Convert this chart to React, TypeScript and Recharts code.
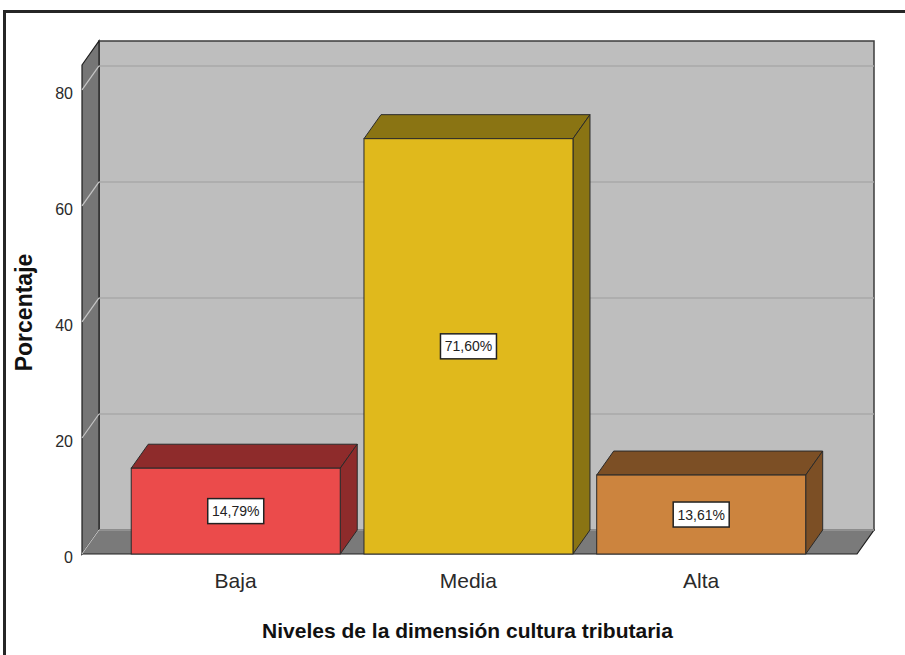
import React from 'react';
import { BarChart, Bar, XAxis, YAxis, ReferenceArea, ReferenceLine } from 'recharts';

// ---- data ----
const categories = ['Baja', 'Media', 'Alta'];
const percentages = [14.79, 71.6, 13.61];
const yTicks = [0, 20, 40, 60, 80];
const xTicks = [1, 2, 3];
const frontColors = ['#EB4B4B', '#E0B91C', '#CC843E'];
const shadeColors = ['#8E2B2B', '#8A7413', '#7C4F25'];
const xTitle = 'Niveles de la dimensión cultura tributaria';
const yTitle = 'Porcentaje';

const X_DOMAIN: [number, number] = [0.34, 3.67];
const Y_MAX = 84.3;
const DX = 17;
const DY = 24;
const FONT = '"Liberation Sans", Arial, Helvetica, sans-serif';

const data = categories.map((name, i) => ({ pos: xTicks[i], name, value: percentages[i] }));

const fmt = (v: number) => v.toFixed(2).replace('.', ',') + '%';

function Walls(props: any) {
  const { x, y, width, height } = props;
  const b = y + height;
  return (
    <g>
      <rect x={x + DX} y={y - DY} width={width} height={height} fill="#BEBEBE" stroke="#3c3c3c" strokeWidth={1.5} />
      <polygon
        points={`${x},${y} ${x + DX},${y - DY} ${x + DX},${b - DY} ${x},${b}`}
        fill="#767676"
        stroke="#1e1e1e"
        strokeWidth={1.2}
      />
      <polygon
        points={`${x},${b} ${x + DX},${b - DY} ${x + width + DX},${b - DY} ${x + width},${b}`}
        fill="#7A7A7A"
        stroke="#1e1e1e"
        strokeWidth={1.2}
      />
    </g>
  );
}

function GridLine(props: any) {
  const { x1, y1, x2 } = props;
  const left = Math.min(x1, x2);
  const right = Math.max(x1, x2);
  return (
    <g>
      <line x1={left + DX} y1={y1 - DY} x2={right + DX} y2={y1 - DY} stroke="#A8A8A8" strokeWidth={1.5} />
      <line x1={left} y1={y1} x2={left + DX} y2={y1 - DY} stroke="#C6C6C6" strokeWidth={1.2} />
    </g>
  );
}

function Bar3D(props: any) {
  const { x, y, width, height, payload } = props;
  const idx = categories.indexOf(payload.name);
  const front = frontColors[idx];
  const shade = shadeColors[idx];
  const cx = x + width / 2;
  const cy = y + height / 2;
  const stroke = '#2a2a2a';
  return (
    <g>
      <polygon
        points={`${x},${y} ${x + DX},${y - DY} ${x + width + DX},${y - DY} ${x + width},${y}`}
        fill={shade}
        stroke={stroke}
        strokeWidth={1}
      />
      <polygon
        points={`${x + width},${y} ${x + width + DX},${y - DY} ${x + width + DX},${y + height - DY} ${x + width},${y + height}`}
        fill={shade}
        stroke={stroke}
        strokeWidth={1}
      />
      <rect x={x} y={y} width={width} height={height} fill={front} stroke={stroke} strokeWidth={1} />
      <rect x={cx - 28} y={cy - 12.5} width={56} height={25} fill="#FFFFFF" stroke="#222" strokeWidth={1.5} />
      <text x={cx} y={cy} dy="0.36em" textAnchor="middle" fontSize={14} fill="#222" fontFamily={FONT}>
        {fmt(payload.value)}
      </text>
    </g>
  );
}

function XTitle(props: any) {
  const vb = props.viewBox || props;
  return (
    <text
      x={vb.x + vb.width / 2 - 2}
      y={vb.y + 84}
      textAnchor="middle"
      fontSize={21}
      fontWeight="bold"
      fill="#111"
      fontFamily={FONT}
    >
      {xTitle}
    </text>
  );
}

function YTitle(props: any) {
  const vb = props.viewBox || props;
  const cy = vb.y + vb.height / 2 + 3;
  return (
    <text
      transform={`translate(${vb.x + 32}, ${cy}) rotate(-90)`}
      x={0}
      y={0}
      textAnchor="middle"
      fontSize={23}
      fontWeight="bold"
      fill="#111"
      fontFamily={FONT}
    >
      {yTitle}
    </text>
  );
}

export default function App() {
  return (
    <div style={{ position: 'absolute', left: 0, top: 0, width: 905, height: 655, background: '#fff', overflow: 'hidden' }}>
      <div
        style={{
          position: 'absolute',
          left: 3,
          top: 10,
          width: 905,
          height: 650,
          borderTop: '3px solid #262626',
          borderLeft: '3px solid #262626',
          boxSizing: 'border-box',
        }}
      />
      <div style={{ position: 'absolute', left: 0, top: 0 }}>
        <BarChart
          width={905}
          height={655}
          data={data}
          margin={{ top: 65, right: 48, bottom: 11, left: 0 }}
          barSize={209}
        >
          <ReferenceArea
            x1={X_DOMAIN[0]}
            x2={X_DOMAIN[1]}
            y1={0}
            y2={Y_MAX}
            shape={<Walls />}
            ifOverflow="visible"
            zIndex={-300}
          />
          {yTicks.map((t) => (
            <ReferenceLine key={t} y={t} shape={GridLine} ifOverflow="visible" zIndex={-200} />
          ))}
          <XAxis
            type="number"
            dataKey="pos"
            domain={X_DOMAIN}
            ticks={xTicks}
            tickFormatter={(v: number) => categories[xTicks.indexOf(v)] ?? ''}
            axisLine={false}
            tickLine={false}
            tickMargin={13}
            height={90}
            tick={{ fill: '#2a2a2a', fontSize: 21, fontFamily: FONT }}
            label={XTitle}
          />
          <YAxis
            type="number"
            domain={[0, Y_MAX]}
            ticks={yTicks}
            width={82}
            axisLine={false}
            tickLine={false}
            tickMargin={3}
            tick={{ fill: '#2a2a2a', fontSize: 16, fontFamily: FONT, dy: 3 }}
            label={YTitle}
          />
          <Bar dataKey="value" isAnimationActive={false} shape={<Bar3D />} />
        </BarChart>
      </div>
    </div>
  );
}
